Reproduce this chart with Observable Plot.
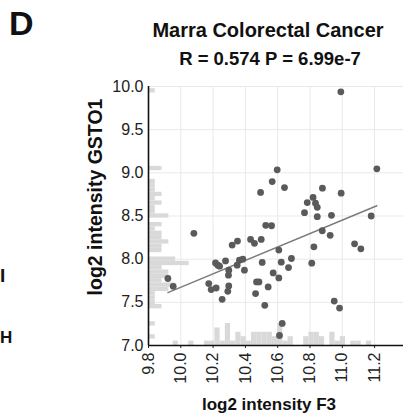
<!DOCTYPE html>
<html>
<head>
<meta charset="utf-8">
<script src="https://cdn.jsdelivr.net/npm/d3@7"></script>
<script src="https://cdn.jsdelivr.net/npm/@observablehq/plot@0.6"></script>
<style>
  html, body { margin: 0; padding: 0; background: #fff; }
  #chart { width: 403px; height: 414px; overflow: hidden; }
</style>
</head>
<body>
<div id="chart"></div>
<script>
// F3 log2 intensity (x) and GSTO1 log2 intensity (y), one entry per sample
const f3 = [10.991, 11.214, 10.597, 10.566, 10.642, 10.877, 10.494, 10.993, 10.819, 10.783,
            10.834, 10.845, 10.766, 10.845, 10.933, 11.179, 10.526, 10.562, 10.876, 10.925,
            10.081, 10.318, 10.351, 10.432, 10.456, 10.498, 11.076, 11.115, 10.824, 10.607,
            10.685, 10.622, 10.504, 10.811, 10.667, 10.572, 10.607, 10.541, 10.520, 10.950,
            10.983, 10.628, 10.611, 9.920, 9.953, 10.215, 10.229, 10.240, 10.277, 10.363,
            10.384, 10.349, 10.394, 10.297, 10.295, 10.173, 10.188, 10.219, 10.297, 10.291,
            10.256, 10.469, 10.484, 10.463];
const gsto1 = [9.938, 9.047, 9.035, 8.899, 8.829, 8.822, 8.773, 8.764, 8.715, 8.655,
               8.648, 8.601, 8.538, 8.492, 8.508, 8.500, 8.392, 8.387, 8.329, 8.276,
               8.299, 8.163, 8.209, 8.229, 8.183, 8.229, 8.178, 8.120, 8.143, 8.105,
               8.008, 7.965, 7.962, 7.953, 7.903, 7.841, 7.783, 7.678, 7.465, 7.515,
               7.434, 7.256, 7.116, 7.776, 7.686, 7.957, 7.930, 7.919, 7.980, 7.988,
               8.000, 7.930, 7.872, 7.872, 7.814, 7.717, 7.648, 7.666, 7.690, 7.628,
               7.535, 7.736, 7.736, 7.601];

const xTicks = [9.8, 10.0, 10.2, 10.4, 10.6, 10.8, 11.0, 11.2];
const yTicks = [7.0, 7.5, 8.0, 8.5, 9.0, 9.5, 10.0];

const title = "Marra Colorectal Cancer";
const subtitle = "R = 0.574 P = 6.99e-7";
const xLabel = "log2 intensity F3";
const yLabel = "log2 intensity GSTO1";
const panelLetter = "D";

const pts = f3.map((x, i) => ({x, y: gsto1[i]}));

// marginal histogram settings
const xMin = 9.8, yMin = 7.0;
const countToX = 0.042;   // x-units per count for the y-marginal histogram
const countToY = 0.051;   // y-units per count for the x-marginal histogram
const [fx0, fx1] = d3.extent(f3);
const nXBins = 40;
const xThresholds = d3.range(1, nXBins).map(i => fx0 + i * (fx1 - fx0) / nXBins);
const yThresholds = d3.range(279, 402, 2).map(k => k / 40);

function reducer(f) { return {reduceIndex: f, reduce: f}; }

const histFill = "#d9d9d9";

const svg = Plot.plot({
  width: 403,
  height: 414,
  marginTop: 86,
  marginBottom: 69,
  marginLeft: 148,
  marginRight: 0,
  style: {fontFamily: "'Liberation Sans', Arial, sans-serif", fontSize: "16px", color: "#222", background: "#fff"},
  x: {domain: [9.8, 11.379], ticks: xTicks, tickFormat: d3.format(".1f"), tickRotate: -90, tickSize: 3, tickPadding: 4, label: null},
  y: {domain: [7, 10], ticks: yTicks, tickFormat: d3.format(".1f"), tickSize: 0, tickPadding: 5, label: null},
  marks: [
    Plot.ruleX(xTicks, {stroke: "#e9e9e9", strokeWidth: 1}),
    Plot.ruleY(yTicks, {stroke: "#e9e9e9", strokeWidth: 1}),
    Plot.rectX(pts, Plot.binY(
      {x1: reducer(() => xMin), x2: reducer((I) => xMin + I.length * countToX)},
      {y: "y", thresholds: yThresholds, fill: histFill, inset: 0})),
    Plot.rectY(pts, Plot.binX(
      {y1: reducer(() => yMin), y2: reducer((I) => yMin + I.length * countToY)},
      {x: "x", thresholds: xThresholds, fill: histFill, inset: 0})),
    Plot.linearRegressionY(pts, {x: "x", y: "y", stroke: "#7a7a7a", strokeWidth: 1.4, ci: 0}),
    Plot.dot(pts, {x: "x", y: "y", r: 3.4, fill: "#5a5a5a", stroke: "none"}),
    Plot.ruleX([xMin], {stroke: "#111", strokeWidth: 1.6}),
    Plot.ruleY([yMin], {stroke: "#111", strokeWidth: 1.6})
  ]
});

const s = d3.select(svg).style("overflow", "visible");
const ff = "'Liberation Sans', Arial, sans-serif";
function label(x, y, size, text, anchor) {
  return s.append("text").attr("x", x).attr("y", y).attr("text-anchor", anchor)
    .attr("font-family", ff).attr("font-weight", "bold").attr("font-size", size)
    .attr("fill", "#111").text(text);
}
label(9, 35, 34, panelLetter, "start");
label(268, 37, 20, title, "middle");
label(270, 65, 18.5, subtitle, "middle");
label(269, 410, 17, xLabel, "middle");
label(0, 0, 19.5, yLabel, "middle").attr("x", null).attr("y", null)
  .attr("transform", "translate(102,197) rotate(-90)");
// fragments of neighbouring panel labels at the left edge
label(0, 282, 19, "I", "start");
label(0, 343, 17, "H", "start");

document.getElementById("chart").appendChild(svg);
</script>
</body>
</html>
